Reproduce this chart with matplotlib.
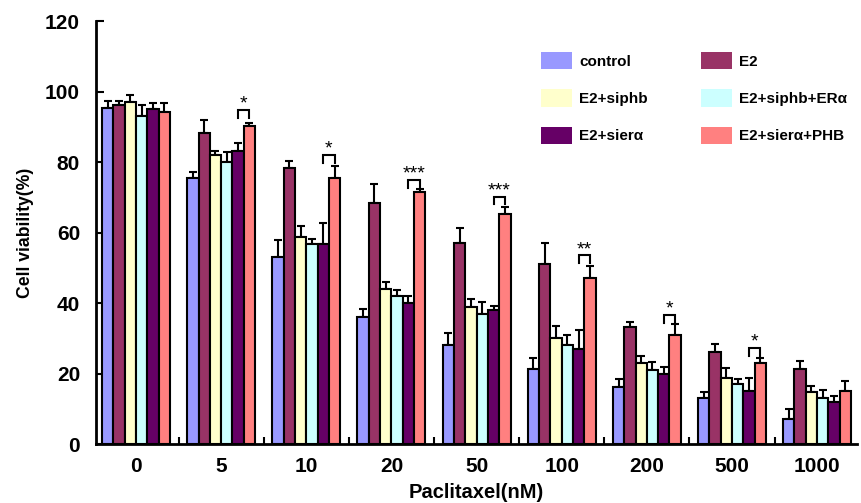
import numpy as np
import matplotlib.pyplot as plt
from matplotlib.patches import Patch

plt.rcParams['font.family'] = ['Liberation Sans', 'DejaVu Sans']

# ── Data ─────────────────────────────────────────────────────────────────────
doses = ['0', '5', '10', '20', '50', '100', '200', '500', '1000']
series = ['control', 'E2', 'E2+siphb', 'E2+siphb+ERα', 'E2+sierα', 'E2+sierα+PHB']
colors = ['#9999FF', '#993366', '#FFFFCC', '#CCFFFF', '#660066', '#FF8080']

control = [95.4, 75.4, 53.1, 36.1, 28.1, 21.2, 16.3, 13.2, 7.0]
e2 = [96.2, 88.3, 78.2, 68.3, 57.1, 51.1, 33.1, 26.2, 21.2]
siphb = [97.1, 82.1, 58.8, 43.9, 39.0, 30.0, 23.1, 18.9, 14.8]
siphb_era = [93.1, 80.1, 56.9, 42.0, 36.9, 28.1, 21.0, 17.0, 13.0]
siera = [95.2, 83.2, 56.9, 39.9, 38.0, 27.0, 19.9, 15.0, 12.0]
siera_phb = [94.3, 90.3, 75.4, 71.4, 65.4, 47.2, 31.1, 23.1, 15.0]

err_control = [2.0, 1.9, 4.8, 2.2, 3.3, 3.1, 2.1, 1.6, 3.1]
err_e2 = [1.2, 3.6, 2.1, 5.6, 4.3, 6.0, 1.6, 2.1, 2.3]
err_siphb = [2.0, 1.1, 3.0, 2.1, 2.3, 3.5, 1.9, 2.6, 1.7]
err_siphb_era = [3.2, 2.8, 1.4, 1.7, 3.3, 3.0, 2.2, 1.6, 2.3]
err_siera = [1.7, 2.1, 5.9, 2.2, 1.1, 5.5, 1.9, 3.8, 1.7]
err_siera_phb = [2.6, 0.9, 3.5, 0.9, 1.9, 3.3, 2.9, 1.4, 3.0]

# significance brackets (sierα vs sierα+PHB)
sig_groups = [1, 2, 3, 4, 5, 6, 7]
sig_marks = ['*', '*', '***', '***', '**', '*', '*']
sig_heights = [94.8, 82.0, 75.0, 70.2, 53.6, 36.6, 27.3]

values = [control, e2, siphb, siphb_era, siera, siera_phb]
errors = [err_control, err_e2, err_siphb, err_siphb_era, err_siera, err_siera_phb]

# ── Plot ─────────────────────────────────────────────────────────────────────
fig = plt.figure(figsize=(8.61, 5.03), dpi=100)
ax = fig.add_axes([0.1115, 0.117, 0.884, 0.841])

x = np.arange(len(doses))
w = 0.133
for i, (vals, errs, c) in enumerate(zip(values, errors, colors)):
    pos = x + (i - 2.5) * w
    ax.bar(pos, vals, width=w, color=c, edgecolor='black', linewidth=1.5, zorder=2)
    ax.errorbar(pos, vals, yerr=[np.zeros(len(errs)), errs], fmt='none',
                ecolor='black', elinewidth=1.5, capsize=3, capthick=1.5, zorder=1)

for g, mark, h in zip(sig_groups, sig_marks, sig_heights):
    x0 = g + 1.5 * w
    x1 = g + 2.5 * w
    ax.plot([x0, x0, x1, x1], [h - 2.2, h, h, h - 2.2], color='black', lw=1.5,
            solid_joinstyle='miter', zorder=3)
    ax.text((x0 + x1) / 2, h - 0.8, mark, ha='center', va='bottom', fontsize=14)

ax.set_xlim(-0.47, 8.47)
ax.set_ylim(0, 120)
ax.set_yticks(range(0, 121, 20))
ax.set_xticks(x)
ax.set_xticklabels(doses)
ax.set_xticks(x[:-1] + 0.5, minor=True)
ax.tick_params(axis='x', which='major', length=0, pad=9)
ax.tick_params(axis='x', which='minor', direction='in', length=5, width=1.5)
ax.tick_params(axis='y', direction='in', length=6, width=1.5, pad=11.5)
for lab in ax.get_xticklabels() + ax.get_yticklabels():
    lab.set_fontsize(15)
    lab.set_fontweight('bold')

for s in ['top', 'right']:
    ax.spines[s].set_visible(False)
for s in ['left', 'bottom']:
    ax.spines[s].set_linewidth(2)

ax.set_xlabel('Paclitaxel(nM)', fontsize=14.5, fontweight='bold', labelpad=5)
ax.set_ylabel('Cell viability(%)', fontsize=12.7, fontweight='bold', labelpad=8)

order = [0, 2, 4, 1, 3, 5]
handles = [Patch(facecolor=colors[k], edgecolor='none', label=series[k]) for k in order]
ax.legend(handles=handles, ncol=2, loc='upper left', bbox_to_anchor=(0.585, 0.927),
          frameon=False, prop={'weight': 'bold', 'size': 11},
          borderaxespad=0, borderpad=0,
          handlelength=2.03, handleheight=1.37, labelspacing=1.31, columnspacing=3.45,
          handletextpad=0.46)

fig.savefig('out.png', dpi=100)
